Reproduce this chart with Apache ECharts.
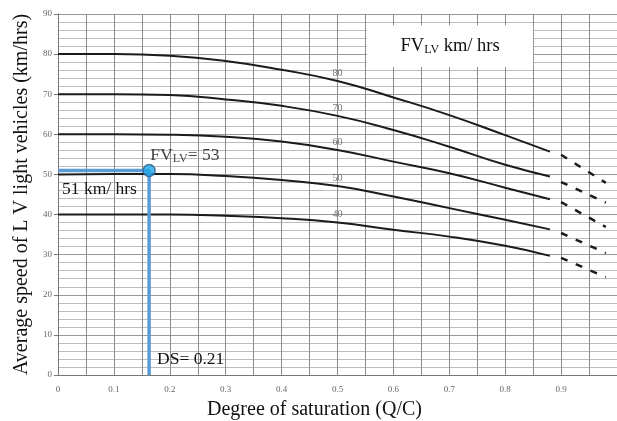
<!DOCTYPE html>
<html>
<head>
<meta charset="utf-8">
<script src="https://cdn.jsdelivr.net/npm/echarts@6/dist/echarts.min.js"></script>
<style>
  html, body { margin: 0; padding: 0; background: #fff; }
  #main { width: 617px; height: 421px; }
</style>
</head>
<body>
<div id="main"></div>
<script>
// degree of saturation where the solid curves are read
var dsValues = [0, 0.1, 0.2, 0.3, 0.4, 0.5, 0.6, 0.7, 0.8, 0.88];
var speed80 = [80, 80, 79.6, 78.3, 76.1, 73.3, 69.2, 64.8, 59.8, 55.7];
var speed70 = [70, 70, 69.8, 68.7, 67.1, 64.6, 61.1, 56.9, 52.4, 49.5];
var speed60 = [60, 60, 59.9, 59.4, 58.2, 56.1, 53.2, 50.3, 46.7, 43.8];
var speed50 = [50, 50.1, 50.1, 49.6, 48.6, 47.1, 44.5, 41.6, 38.7, 36.3];
var speed40 = [40, 40, 40, 39.7, 39.1, 38.0, 36.2, 34.5, 32.2, 29.7];

// dashed extension past 0.9
var dashDs = [0.9, 0.98];
var dash80 = [54.9, 47.9];
var dash70 = [48.1, 43.0];
var dash60 = [43.1, 36.9];
var dash50 = [35.4, 30.4];
var dash40 = [29.2, 24.4];

var curveNames = ['80', '70', '60', '50', '40'];
var curveLabelAt = 5; // index of ds = 0.5

// reading for this case
var fvPoint = [0.163, 51];
var fvText = '53';
var speedText = '51 km/ hrs';
var dsText = '0.21';

var serif = '"Liberation Serif", "Times New Roman", serif';
var solid = [speed80, speed70, speed60, speed50, speed40];
var dashed = [dash80, dash70, dash60, dash50, dash40];
var subStyle = { fontSize: 12, fontFamily: serif, color: '#111', verticalAlign: 'bottom', padding: [6, 0, 0, 0] };

function zip(xs, ys) {
  return xs.map(function (x, i) { return [x, ys[i]]; });
}

var series = [];
solid.forEach(function (ys, k) {
  series.push({
    name: curveNames[k],
    type: 'line',
    data: zip(dsValues, ys),
    smooth: 0.5,
    showSymbol: false,
    silent: true,
    lineStyle: { color: '#1b1b1b', width: 2 },
    z: 3
  });
});
dashed.forEach(function (ys) {
  series.push({
    type: 'line',
    data: zip(dashDs, ys),
    showSymbol: false,
    silent: true,
    lineStyle: { color: '#1b1b1b', width: 2.5, type: [7, 9] },
    z: 3
  });
});

// small curve labels at ds = 0.5
series.push({
  type: 'scatter',
  symbolSize: 0,
  silent: true,
  data: solid.map(function (ys, k) {
    return { value: [dsValues[curveLabelAt], ys[curveLabelAt]], name: curveNames[k] };
  }),
  label: {
    show: true,
    position: 'top',
    distance: 3,
    formatter: '{b}',
    color: '#555',
    fontSize: 10,
    fontFamily: serif
  },
  z: 4
});

// white legend box
series.push({
  type: 'line',
  data: [],
  markArea: {
    silent: true,
    itemStyle: { color: '#fff' },
    label: {
      show: true,
      position: 'inside',
      formatter: 'FV{s|LV} km/ hrs',
      color: '#111',
      fontSize: 18.5,
      fontFamily: serif,
      rich: { s: subStyle }
    },
    data: [[{ coord: [0.553, 76.8] }, { coord: [0.85, 87.2] }]]
  },
  z: 2
});

// blue reading lines
series.push({
  type: 'line',
  data: [
    { value: [0, fvPoint[1]], label: { show: true, formatter: speedText, position: [4, 10], align: 'left', verticalAlign: 'top' } },
    { value: fvPoint },
    { value: [fvPoint[0], 0], label: { show: true, formatter: 'DS= ' + dsText, position: [8, -25], align: 'left', verticalAlign: 'top' } }
  ],
  showSymbol: true,
  symbolSize: 0,
  silent: true,
  label: { color: '#111', fontSize: 17.5, fontFamily: serif },
  lineStyle: { color: '#5b9bd5', width: 3.5 },
  z: 5
});
series.push({
  type: 'scatter',
  data: [fvPoint],
  symbolSize: 12,
  silent: true,
  itemStyle: { color: '#1fa6e6', borderColor: '#2f5f8f', borderWidth: 1.5 },
  label: {
    show: true,
    position: [8, -17],
    align: 'left',
    verticalAlign: 'top',
    formatter: 'FV{s|LV}= ' + fvText,
    color: '#111',
    fontSize: 17.5,
    fontFamily: serif,
    rich: { s: subStyle }
  },
  z: 6
});

var option = {
  animation: false,
  backgroundColor: '#fff',
  grid: { left: 58, right: 0, top: 14, bottom: 46, outerBoundsMode: 'none' },
  xAxis: {
    type: 'value',
    min: 0,
    max: 1,
    interval: 0.1,
    name: 'Degree of saturation (Q/C)',
    nameLocation: 'middle',
    nameGap: 25,
    nameTextStyle: { fontFamily: serif, fontSize: 20, color: '#111', padding: [0, 46, 0, 0] },
    axisLine: { lineStyle: { color: '#777' } },
    axisTick: { show: false },
    axisLabel: {
      margin: 10,
      fontSize: 9,
      fontFamily: serif,
      color: '#666',
      formatter: function (v) {
        if (v > 0.95) return '';
        return v === 0 ? '0' : v.toFixed(1);
      }
    },
    splitLine: { show: true, lineStyle: { color: '#8c8c8c', width: 1 } },
    minorTick: { show: false, splitNumber: 2 },
    minorSplitLine: { show: true, lineStyle: { color: '#8c8c8c', width: 1 } }
  },
  yAxis: {
    type: 'value',
    min: 0,
    max: 90,
    interval: 10,
    name: 'Average speed of L V light vehicles (km/hrs)',
    nameLocation: 'middle',
    nameGap: 26,
    nameTextStyle: { fontFamily: serif, fontSize: 20, color: '#111' },
    axisLine: { show: true, lineStyle: { color: '#777' } },
    axisTick: { show: true, length: 4, lineStyle: { color: '#777' } },
    axisLabel: { margin: 6, fontSize: 9, fontFamily: serif, color: '#666' },
    splitLine: { show: true, lineStyle: { color: '#9a9a9a', width: 1 } },
    minorTick: { show: false, splitNumber: 5 },
    minorSplitLine: { show: true, lineStyle: { color: '#bcbcbc', width: 1 } }
  },
  series: series
};

var chart = echarts.init(document.getElementById('main'));
chart.setOption(option);
</script>
</body>
</html>
